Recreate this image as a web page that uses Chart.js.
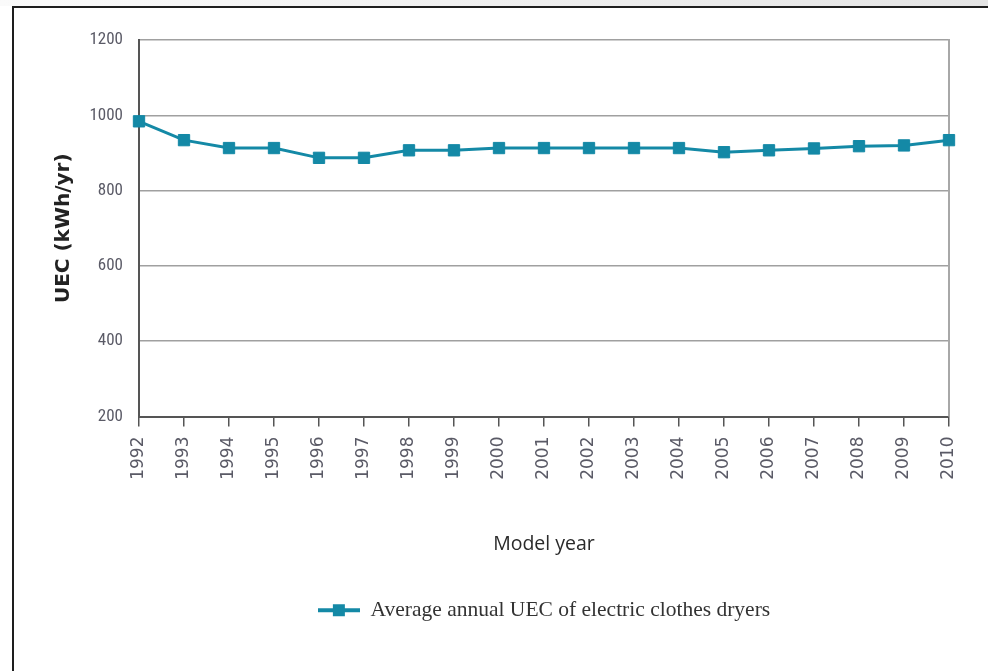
<!DOCTYPE html>
<html>
<head>
<meta charset="utf-8">
<script src="https://cdn.jsdelivr.net/npm/chart.js@4"></script>
<style>
  html, body { margin: 0; padding: 0; background: #fff; }
  #strip { position: absolute; left: 0; top: 0; width: 988px; height: 6px;
           background: linear-gradient(to right, #fafafa, #e4e4e4); }
  #frame { position: absolute; left: 12px; top: 6px; width: 976px; height: 665px;
           border-top: 2px solid #1e1e1e; border-left: 2px solid #1e1e1e; background: #fff; }
  #wrap { position: absolute; left: 0; top: 0; width: 988px; height: 671px; }
</style>
</head>
<body>
<div id="strip"></div>
<div id="frame"></div>
<div id="wrap"><canvas id="chart" width="988" height="671"></canvas></div>
<script>
const years = ["1992", "1993", "1994", "1995", "1996", "1997", "1998", "1999", "2000", "2001",
               "2002", "2003", "2004", "2005", "2006", "2007", "2008", "2009", "2010"];
const uecValues = [984, 934, 913, 913, 887, 887, 907, 907, 913, 913,
                   913, 913, 913, 902, 907, 912, 918, 920, 934];
const seriesLabel = "Average annual UEC of electric clothes dryers";
const teal = "#1489a6";

// legend marker: line with a square in the middle
const marker = document.createElement("canvas");
marker.width = 42;
marker.height = 14;
const m = marker.getContext("2d");
m.fillStyle = teal;
m.fillRect(0, 5, 42, 4);
m.fillRect(15, 1, 12, 12);

const rightBorder = {
    id: "rightBorder",
    beforeDatasetsDraw(chart) {
        const { ctx, chartArea } = chart;
        ctx.save();
        ctx.strokeStyle = "#a8a8a8";
        ctx.lineWidth = 2;
        ctx.beginPath();
        ctx.moveTo(chartArea.right, chartArea.top - 1);
        ctx.lineTo(chartArea.right, chartArea.bottom);
        ctx.stroke();
        ctx.restore();
    }
};

new Chart(document.getElementById("chart").getContext("2d"), {
    type: "line",
    data: {
        labels: years,
        datasets: [{
            label: seriesLabel,
            data: uecValues,
            borderColor: teal,
            backgroundColor: teal,
            borderWidth: 3,
            pointStyle: "rect",
            pointRadius: 8,
            pointBorderWidth: 1,
            tension: 0,
            clip: false
        }]
    },
    options: {
        responsive: false,
        animation: false,
        layout: { padding: { top: 40, right: 39, bottom: 40, left: 0 } },
        plugins: {
            legend: {
                position: "bottom",
                fullSize: false,
                labels: {
                    usePointStyle: true,
                    pointStyle: marker,
                    pointStyleWidth: 42,
                    padding: 10,
                    color: "#333",
                    font: { family: "'Liberation Serif', serif", size: 21.5 }
                }
            },
            tooltip: { enabled: false }
        },
        scales: {
            x: {
                offset: false,
                afterFit: s => { s.height = 173; },
                grid: { display: true, drawOnChartArea: false, drawTicks: true,
                        tickLength: 10, tickColor: "#555", lineWidth: 1.5 },
                border: { display: true, color: "#555", width: 2 },
                ticks: {
                    autoSkip: false, minRotation: 90, maxRotation: 90, padding: 10,
                    color: "#5a5a66",
                    font: { family: "'DejaVu Sans', sans-serif", size: 17 }
                },
                title: {
                    display: true, text: "Model year", color: "#2a2a2a",
                    padding: { top: 0, bottom: 33 },
                    font: { family: "'Open Sans', sans-serif", size: 19.5 }
                }
            },
            y: {
                min: 200, max: 1200,
                afterFit: s => { s.width = 139; },
                grid: { color: "#a0a0a0", lineWidth: 1.5, drawTicks: false },
                border: { display: true, color: "#555", width: 2 },
                ticks: {
                    stepSize: 200, padding: 16, color: "#5a5a66",
                    callback: v => String(v),
                    font: { family: "'Liberation Sans Narrow', 'Roboto Condensed', sans-serif", size: 17 }
                },
                title: {
                    display: true, text: "UEC (kWh/yr)", color: "#222",
                    padding: { top: 52, bottom: 0 },
                    font: { family: "'DejaVu Sans', sans-serif", size: 20, weight: "bold" }
                }
            }
        }
    },
    plugins: [rightBorder]
});
</script>
</body>
</html>
